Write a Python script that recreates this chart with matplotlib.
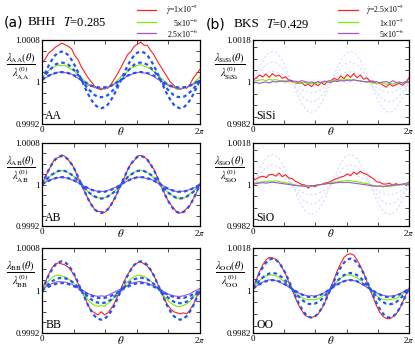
import numpy as np
import matplotlib
matplotlib.use("Agg")
import matplotlib.pyplot as plt
from matplotlib.lines import Line2D

plt.rcParams["font.family"] = "serif"
plt.rcParams["font.serif"] = ["Liberation Serif", "DejaVu Serif"]
plt.rcParams["mathtext.fontset"] = "stix"

# sampling grid (49 points over 0..2pi); values below are deviations from 1 in units of 1e-5
theta = np.linspace(0, 2 * np.pi, 49)

# ---- (a) BHH, T=0.285 ----
aa_red = [36, 44, 55, 60, 66, 70, 74, 71, 68, 63, 50, 42, 28, 18, 8, 0, -8, -12, -15, -10, -12, -4, 6, 16, 28,
          40, 52, 58, 68, 72, 76, 70, 70, 60, 52, 40, 30, 20, 10, 0, -6, -12, -14, -10, -12, -4, 8, 16, 24]
aa_green = [8, 14, 22, 26, 30, 32, 31, 32, 28, 24, 20, 14, 8, 2, -2, -8, -10, -13, -12, -14, -10, -6, -2, 4, 10,
            15, 20, 26, 29, 32, 33, 30, 28, 25, 20, 14, 8, 3, -3, -7, -10, -14, -13, -12, -10, -6, -2, 4, 9]
aa_purple = [4, 8, 11, 15, 16, 19, 18, 18, 16, 15, 10, 7, 2, -1, -6, -8, -10, -13, -12, -13, -10, -8, -4, 0, 4,
             7, 12, 14, 17, 18, 19, 17, 17, 13, 11, 6, 3, -2, -5, -9, -10, -12, -14, -11, -10, -7, -4, -1, 3]
aa_fit1 = [4, 18, 31, 42, 51, 56, 58, 56, 51, 42, 31, 18, 4, -10, -23, -34, -43, -48, -50, -48, -43, -34, -23, -10, 4,
           18, 31, 42, 51, 56, 58, 56, 51, 42, 31, 18, 4, -10, -23, -34, -43, -48, -50, -48, -43, -34, -23, -10, 4]
aa_fit2 = [4, 13, 21, 27, 33, 36, 37, 36, 33, 27, 21, 13, 4, -5, -13, -19, -25, -28, -29, -28, -25, -19, -13, -5, 4,
           13, 21, 27, 33, 36, 37, 36, 33, 27, 21, 13, 4, -5, -13, -19, -25, -28, -29, -28, -25, -19, -13, -5, 4]
aa_fit3 = [4, 8, 12, 15, 17, 18, 19, 18, 17, 15, 12, 8, 4, 0, -4, -7, -9, -10, -11, -10, -9, -7, -4, 0, 4,
           8, 12, 15, 17, 18, 19, 18, 17, 15, 12, 8, 4, 0, -4, -7, -9, -10, -11, -10, -9, -7, -4, 0, 4]

ab_red = [0, 15, 27, 40, 50, 52, 57, 54, 47, 40, 28, 12, 2, -15, -27, -39, -48, -52, -52, -54, -48, -38, -28, -15, 0,
          13, 28, 40, 46, 55, 56, 53, 48, 38, 29, 15, -1, -14, -28, -38, -46, -54, -55, -52, -46, -40, -27, -15, 2]
ab_green = [0, 8, 13, 20, 22, 27, 27, 26, 23, 18, 14, 6, 0, -7, -14, -20, -24, -25, -28, -26, -22, -19, -13, -8, 1,
            7, 14, 19, 24, 26, 28, 25, 23, 19, 13, 7, -1, -7, -14, -18, -23, -27, -26, -26, -23, -18, -14, -6, 0]
ab_purple = [1, 4, 8, 10, 12, 13, 15, 13, 12, 9, 7, 3, 0, -4, -7, -10, -12, -13, -13, -14, -11, -10, -6, -4, 1,
             4, 7, 10, 13, 14, 14, 13, 11, 10, 7, 3, 0, -3, -8, -10, -12, -14, -13, -13, -12, -9, -7, -4, 1]
ab_fit1 = [0, 14, 28, 39, 48, 53, 55, 53, 48, 39, 28, 14, 0, -14, -28, -39, -48, -53, -55, -53, -48, -39, -28, -14, 0,
           14, 28, 39, 48, 53, 55, 53, 48, 39, 28, 14, 0, -14, -28, -39, -48, -53, -55, -53, -48, -39, -28, -14, 0]
ab_fit2 = [0, 7, 14, 19, 23, 26, 27, 26, 23, 19, 14, 7, 0, -7, -14, -19, -23, -26, -27, -26, -23, -19, -14, -7, 0,
           7, 14, 19, 23, 26, 27, 26, 23, 19, 14, 7, 0, -7, -14, -19, -23, -26, -27, -26, -23, -19, -14, -7, 0]
ab_fit3 = [0, 4, 7, 10, 12, 14, 14, 14, 12, 10, 7, 4, 0, -4, -7, -10, -12, -14, -14, -14, -12, -10, -7, -4, 0,
           4, 7, 10, 12, 14, 14, 14, 12, 10, 7, 4, 0, -4, -7, -10, -12, -14, -14, -14, -12, -10, -7, -4, 0]

bb_red = [0, 16, 30, 42, 50, 52, 50, 48, 44, 36, 26, 12, 0, -12, -28, -38, -42, -46, -40, -46, -42, -34, -24, -10, 4,
          18, 30, 40, 48, 52, 54, 50, 46, 38, 28, 14, 0, -14, -26, -34, -40, -42, -44, -42, -44, -36, -26, -12, 2]
bb_green = [0, 10, 18, 24, 28, 29, 27, 26, 22, 18, 12, 4, -2, -10, -18, -24, -28, -30, -28, -30, -24, -20, -12, -6, 2,
            10, 16, 22, 26, 29, 28, 27, 22, 18, 12, 6, -2, -10, -17, -23, -27, -30, -30, -28, -25, -20, -12, -6, 1]
bb_purple = [1, 6, 10, 13, 15, 17, 16, 16, 14, 12, 8, 5, 2, -2, -6, -8, -10, -11, -10, -11, -9, -6, -3, 0, 3,
             6, 10, 13, 15, 16, 17, 15, 14, 11, 8, 5, 2, -2, -6, -8, -10, -11, -11, -10, -8, -6, -2, 1, 4]
bb_fit1 = ab_fit1
bb_fit2 = [0, 6, 12, 17, 21, 23, 24, 23, 21, 17, 12, 6, 0, -6, -12, -17, -21, -23, -24, -23, -21, -17, -12, -6, 0,
           6, 12, 17, 21, 23, 24, 23, 21, 17, 12, 6, 0, -6, -12, -17, -21, -23, -24, -23, -21, -17, -12, -6, 0]
bb_fit3 = ab_fit3

# ---- (b) BKS, T=0.429 ----
sisi_red = [10, 16, 30, 22, 34, 20, 36, 24, 30, 16, 22, 8, 6, -4, -6, -2, -16, -8, -20, -6, -16, -2, -12, 4, 6,
            16, 8, 26, 14, 32, 20, 36, 18, 30, 12, 18, 4, 4, -8, -2, -14, -22, -8, -18, -12, -6, -14, -2, 18]
sisi_green = [4, 6, 8, 10, 6, 12, 8, 10, 6, 4, 6, 0, 2, -2, -4, -6, -2, -8, -6, -6, -4, -2, 0, 2, 4,
              6, 4, 10, 8, 12, 10, 8, 6, 6, 2, 0, -2, -4, -6, -8, -4, -10, -6, -8, -6, -2, -4, 0, 2]
sisi_purple = [-4, -2, -6, -2, 0, -4, 2, 0, 2, 4, 0, 6, 2, 4, 0, 6, 2, -2, 0, -4, 2, -2, 4, 0, -2,
               4, 2, 6, 4, 8, 4, 10, 6, 4, 2, 0, 4, -2, 2, -4, 0, 2, -4, 6, -2, 0, -4, 2, 0]

sio_red = [20, 24, 32, 36, 30, 42, 44, 36, 50, 34, 42, 28, 26, 14, 8, 0, -2, -16, -4, -10, -2, 0, 6, 8, 14,
           22, 26, 32, 36, 46, 38, 54, 44, 58, 48, 44, 34, 26, 12, 10, 2, 2, 6, -4, 4, -2, 0, 4, 10]
sio_green = [4, 8, 10, 12, 12, 16, 14, 16, 12, 10, 8, 4, 2, -2, -4, -6, -8, -6, -8, -4, -2, 0, 2, 4, 8,
             10, 12, 14, 16, 18, 16, 14, 12, 10, 6, 4, 0, -4, -6, -8, -10, -8, -10, -6, -4, -2, 0, 2, 4]
sio_purple = [0, 4, 6, 8, 6, 8, 10, 8, 6, 4, 2, 0, -2, -4, -6, -6, -8, -6, -6, -4, -2, 0, 2, 4, 4,
              6, 8, 10, 8, 10, 8, 6, 4, 2, 0, -2, -4, -6, -8, -6, -8, -6, -4, -2, -2, 0, 2, 2, 0]

# faint reference fits shown behind SiSi and SiO
bks_faint1 = [0, 34, 65, 92, 113, 126, 130, 126, 113, 92, 65, 34, 0, -34, -65, -92, -113, -126, -130, -126, -113, -92, -65, -34, 0,
              34, 65, 92, 113, 126, 130, 126, 113, 92, 65, 34, 0, -34, -65, -92, -113, -126, -130, -126, -113, -92, -65, -34, 0]
bks_faint2 = [0, 22, 43, 60, 74, 82, 85, 82, 74, 60, 43, 22, 0, -22, -43, -60, -74, -82, -85, -82, -74, -60, -43, -22, 0,
              22, 43, 60, 74, 82, 85, 82, 74, 60, 43, 22, 0, -22, -43, -60, -74, -82, -85, -82, -74, -60, -43, -22, 0]
bks_faint3 = [0, 12, 23, 32, 39, 43, 45, 43, 39, 32, 23, 12, 0, -12, -23, -32, -39, -43, -45, -43, -39, -32, -23, -12, 0,
              12, 23, 32, 39, 43, 45, 43, 39, 32, 23, 12, 0, -12, -23, -32, -39, -43, -45, -43, -39, -32, -23, -12, 0]

oo_red = [5, 45, 80, 108, 130, 140, 138, 132, 120, 95, 70, 35, 5, -30, -60, -85, -105, -112, -114, -110, -100, -80, -55, -20, 15,
          50, 85, 115, 140, 152, 156, 150, 130, 105, 75, 40, 5, -30, -65, -92, -110, -118, -120, -112, -100, -80, -50, -20, 10]
oo_green = [10, 28, 42, 54, 62, 66, 65, 62, 55, 44, 32, 18, 5, -10, -22, -30, -36, -40, -38, -40, -35, -28, -18, -5, 10,
            25, 40, 52, 62, 66, 66, 60, 54, 44, 30, 16, 4, -10, -22, -32, -38, -40, -38, -36, -34, -26, -16, -4, 8]
oo_purple = [8, 18, 28, 36, 42, 45, 44, 42, 36, 30, 22, 14, 6, -2, -10, -16, -20, -24, -22, -24, -20, -16, -8, 0, 8,
             18, 26, 34, 40, 44, 45, 42, 38, 30, 22, 14, 6, -2, -10, -16, -20, -24, -24, -22, -20, -14, -8, 0, 8]
oo_fit1 = [10, 42, 73, 98, 118, 131, 135, 131, 118, 98, 73, 42, 10, -22, -53, -78, -98, -111, -115, -111, -98, -78, -53, -22, 10,
           42, 73, 98, 118, 131, 135, 131, 118, 98, 73, 42, 10, -22, -53, -78, -98, -111, -115, -111, -98, -78, -53, -22, 10]
oo_fit2 = [8, 25, 41, 55, 65, 72, 74, 72, 65, 55, 41, 25, 8, -9, -25, -39, -49, -56, -58, -56, -49, -39, -25, -9, 8,
           25, 41, 55, 65, 72, 74, 72, 65, 55, 41, 25, 8, -9, -25, -39, -49, -56, -58, -56, -49, -39, -25, -9, 8]
oo_fit3 = [8, 17, 26, 33, 39, 43, 44, 43, 39, 33, 26, 17, 8, -1, -10, -17, -23, -27, -28, -27, -23, -17, -10, -1, 8,
           17, 26, 33, 39, 43, 44, 43, 39, 33, 26, 17, 8, -1, -10, -17, -23, -27, -28, -27, -23, -17, -10, -1, 8]

legend_a = [r"$\dot{\gamma}$=1$\times$10$^{-5}$", r"5$\times$10$^{-6}$", r"2.5$\times$10$^{-6}$"]
legend_b = [r"$\dot{\gamma}$=2.5$\times$10$^{-5}$", r"1$\times$10$^{-5}$", r"5$\times$10$^{-6}$"]

RED = "#ff2020"
GREEN = "#77ee00"
PURPLE = "#a050e0"
BLUE = "#2255ee"
FAINT = "#d4dcff"

W, H = 415, 346
fig = plt.figure(figsize=(W / 100, H / 100), dpi=100)


def px_axes(x0, x1, y0, y1):
    return fig.add_axes([x0 / W, 1 - y1 / H, (x1 - x0) / W, (y1 - y0) / H])


def to_val(dev):
    return 1 + np.array(dev) * 1e-5


rows = [(40, 124), (143, 226), (248, 333)]

panels_a = [
    ("AA", aa_red, aa_green, aa_purple, [aa_fit1, aa_fit2, aa_fit3]),
    ("AB", ab_red, ab_green, ab_purple, [ab_fit1, ab_fit2, ab_fit3]),
    ("BB", bb_red, bb_green, bb_purple, [bb_fit1, bb_fit2, bb_fit3]),
]
panels_b = [
    ("SiSi", sisi_red, sisi_green, sisi_purple, None),
    ("SiO", sio_red, sio_green, sio_purple, None),
    ("OO", oo_red, oo_green, oo_purple, [oo_fit1, oo_fit2, oo_fit3]),
]


def style_axes(ax, ylo, yhi, yticks, ylabels, name, lbl_x):
    ax.set_xlim(0, 2 * np.pi)
    ax.set_ylim(ylo, yhi)
    ax.set_xticks(np.linspace(0, 2 * np.pi, 6))
    ax.set_xticklabels(["0", "", "", "", "", r"2$\pi$"])
    ax.set_yticks(yticks)
    ax.set_yticklabels(ylabels)
    ax.tick_params(direction="in", top=True, right=True, length=3, width=0.5,
                   labelsize=6.5, pad=1.5)
    for sp in ax.spines.values():
        sp.set_linewidth(0.9)
    ax.text(0.5, -0.085, r"$\theta$", transform=ax.transAxes, ha="center", va="center", fontsize=8)
    frac = (r"$\dfrac{\lambda_{\mathrm{%s}}(\theta)}{\lambda_{\mathrm{%s}}^{(0)}}$" % (name, name))
    ax.text(lbl_x, 0.68, frac, transform=ax.transAxes, ha="center", va="center", fontsize=7.5)
    ax.text(0.02, 0.02, name, transform=ax.transAxes, ha="left", va="bottom", fontsize=8.5)


yt_a = [0.9992, 0.9994, 0.9996, 0.9998, 1.0, 1.0002, 1.0004, 1.0006, 1.0008]
yl_a = ["0.9992", "", "", "", "1", "", "", "", "1.0008"]
yt_b = [0.9982, 0.9985, 0.999, 0.9995, 1.0, 1.0005, 1.001, 1.0015, 1.0018]
yl_b = ["0.9982", "", "", "", "1", "", "", "", "1.0018"]

for (name, red, green, purple, fits), (y0, y1) in zip(panels_a, rows):
    ax = px_axes(42, 200, y0, y1)
    ax.plot(theta, to_val(red), color=RED, lw=0.8)
    ax.plot(theta, to_val(green), color=GREEN, lw=0.8)
    ax.plot(theta, to_val(purple), color=PURPLE, lw=0.8)
    for f in fits:
        ax.plot(theta, to_val(f), color=BLUE, lw=1.6, ls=(0, (1.6, 1.4)))
    style_axes(ax, 0.9992, 1.0008, yt_a, yl_a, name, -0.135)

for (name, red, green, purple, fits), (y0, y1) in zip(panels_b, rows):
    ax = px_axes(253, 409, y0, y1)
    if fits is None:
        for f in [bks_faint1, bks_faint2, bks_faint3]:
            ax.plot(theta, to_val(f), color=FAINT, lw=0.8, ls=(0, (2, 2)))
    ax.plot(theta, to_val(red), color=RED, lw=0.8)
    ax.plot(theta, to_val(green), color=GREEN, lw=0.8)
    ax.plot(theta, to_val(purple), color=PURPLE, lw=0.8)
    if fits is not None:
        for f in fits:
            ax.plot(theta, to_val(f), color=BLUE, lw=1.6, ls=(0, (1.6, 1.4)))
    style_axes(ax, 0.9982, 1.0018, yt_b, yl_b, name, -0.15)

# titles
fig.text(4 / W, 1 - 22 / H, "(a)", fontsize=10, family="DejaVu Sans", va="center")
fig.text(28 / W, 1 - 22 / H, "BHH", fontsize=9.5, va="center")
fig.text(63 / W, 1 - 22 / H, r"$T$=0.285", fontsize=9, va="center")
fig.text(206 / W, 1 - 24 / H, "(b)", fontsize=10, family="DejaVu Sans", va="center")
fig.text(234 / W, 1 - 24 / H, "BKS", fontsize=9.5, va="center")
fig.text(266 / W, 1 - 24 / H, r"$T$=0.429", fontsize=9, va="center")

# legends
for labels, lx0, lx1, tx in [(legend_a, 137, 156, 198), (legend_b, 338, 358, 404)]:
    for lab, col, yy in zip(labels, [RED, GREEN, PURPLE], [10, 22, 33]):
        fig.add_artist(Line2D([lx0 / W, lx1 / W], [1 - yy / H, 1 - yy / H], color=col, lw=0.9,
                              transform=fig.transFigure))
        fig.text(tx / W, 1 - yy / H, lab, fontsize=5.6, ha="right", va="center")

fig.savefig("out.png", dpi=100)
